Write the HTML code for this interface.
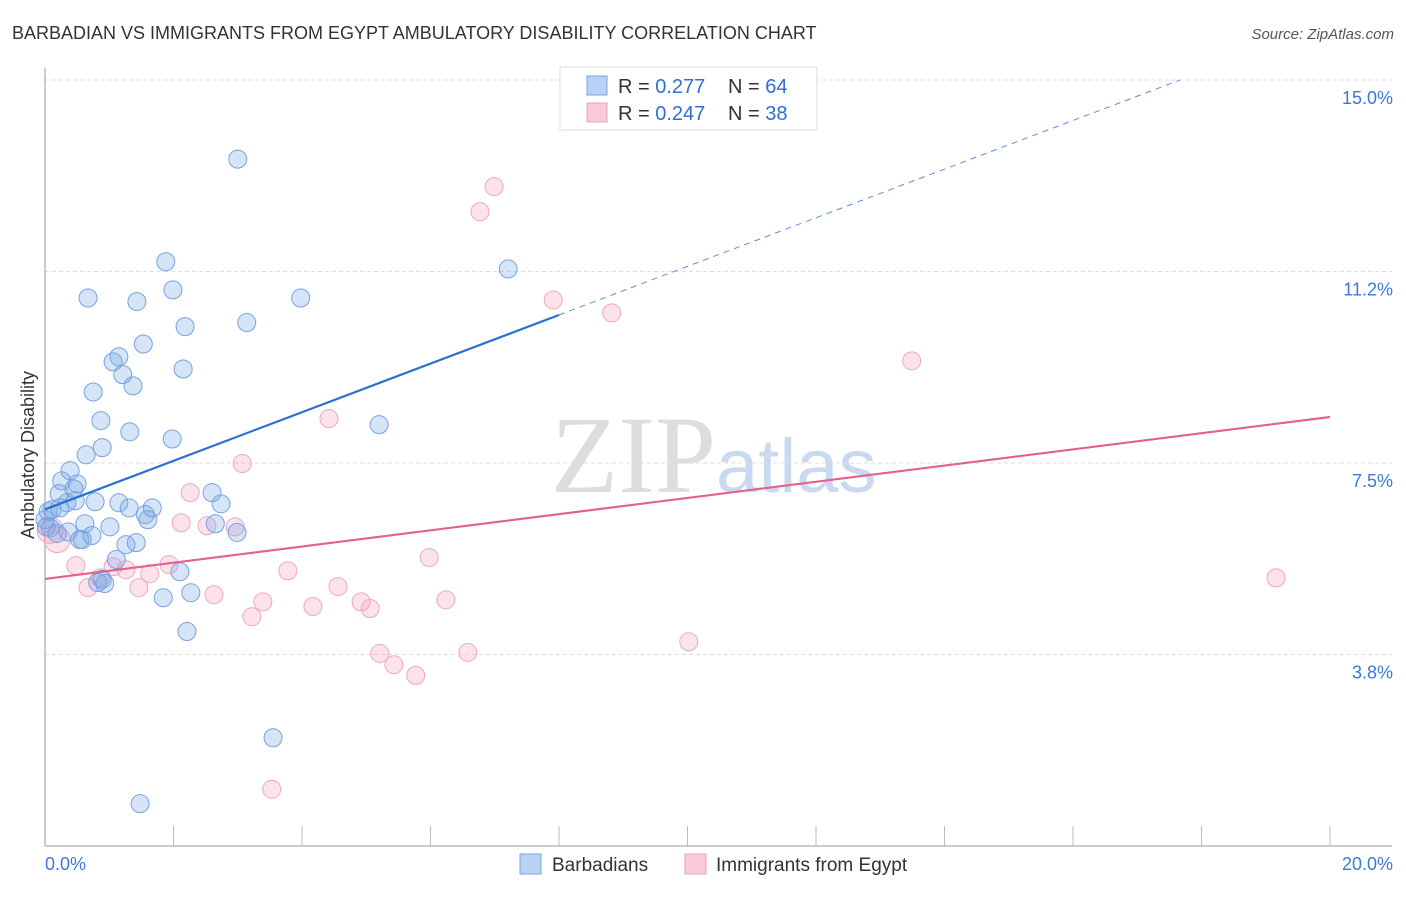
<!DOCTYPE html>
<html><head><meta charset="utf-8"><style>
body{margin:0;background:#fff;font-family:"Liberation Sans",sans-serif;}
</style></head><body>
<svg id="chart" width="1406" height="892" xmlns="http://www.w3.org/2000/svg">
<text x="12" y="39" font-size="18" fill="#333">BARBADIAN VS IMMIGRANTS FROM EGYPT AMBULATORY DISABILITY CORRELATION CHART</text>
<text x="1394" y="39" font-size="15" fill="#555" font-style="italic" text-anchor="end">Source: ZipAtlas.com</text>
<text x="716" y="492" font-size="110" fill="#ddd" text-anchor="end" font-family="Liberation Serif,serif">ZIP</text>
<text x="716" y="492" font-size="76" fill="#c9daf0">atlas</text>
<g id="grid"></g><g id="axes"></g><g id="marks"></g>
<text transform="translate(34,455) rotate(-90)" font-size="18" fill="#333" text-anchor="middle">Ambulatory Disability</text>
<g>
<rect x="560" y="67" width="257" height="63" fill="#fff" stroke="#ddd"/>
<rect x="587" y="76" width="20" height="19" fill="#b8d2f4" stroke="#7aa6e4"/>
<rect x="587" y="103" width="20" height="19" fill="#f9c9d8" stroke="#eaa0b8"/>
<text x="618" y="93" font-size="20" fill="#333">R = <tspan fill="#2e6fd6">0.277</tspan></text>
<text x="728" y="93" font-size="20" fill="#333">N = <tspan fill="#2e6fd6">64</tspan></text>
<text x="618" y="120" font-size="20" fill="#333">R = <tspan fill="#2e6fd6">0.247</tspan></text>
<text x="728" y="120" font-size="20" fill="#333">N = <tspan fill="#2e6fd6">38</tspan></text>
</g>
<g>
<rect x="520" y="854" width="21" height="20" fill="#b8d2f4" stroke="#7aa6e4"/>
<text x="552" y="871" font-size="19" fill="#333">Barbadians</text>
<rect x="685" y="854" width="21" height="20" fill="#f9c9d8" stroke="#eaa0b8"/>
<text x="716" y="871" font-size="19" fill="#333">Immigrants from Egypt</text>
</g>
</svg>
<script>
const blueX=[3.00,1.88,1.99,0.67,1.43,3.98,7.21,2.18,3.14,1.53,1.15,1.06,2.15,1.21,1.37,0.75,0.87,1.32,1.98,5.20,0.89,0.64,0.39,0.26,0.50,0.22,0.45,2.60,2.74,0.34,0.47,0.78,1.15,1.67,1.31,0.11,0.05,1.56,1.60,0.62,1.01,2.65,2.99,0.36,0.08,0.02,0.58,0.73,1.42,1.26,1.11,2.10,0.82,0.93,0.89,1.84,2.27,2.21,3.55,1.48,0.54,0.19,0.00,0.23];
const blueY=[13.45,11.44,10.89,10.73,10.66,10.73,11.30,10.17,10.25,9.83,9.58,9.48,9.34,9.23,9.01,8.89,8.33,8.11,7.97,8.25,7.80,7.66,7.35,7.15,7.09,6.90,6.99,6.92,6.70,6.72,6.76,6.74,6.72,6.62,6.62,6.59,6.55,6.49,6.39,6.31,6.25,6.31,6.14,6.15,6.23,6.25,6.00,6.08,5.94,5.90,5.61,5.37,5.16,5.14,5.22,4.86,4.96,4.20,2.12,0.83,6.00,6.12,6.39,6.62];
const pinkX=[6.99,6.77,7.91,8.82,13.49,4.42,3.07,2.26,2.12,2.96,2.52,5.98,1.93,3.78,1.63,1.26,1.06,0.48,0.67,1.46,2.63,3.39,3.22,4.17,4.56,4.92,5.06,6.24,5.21,5.43,5.77,6.58,10.02,19.16,3.53,0.19,0.08,0.86];
const pinkY=[12.91,12.42,10.69,10.44,9.50,8.37,7.49,6.92,6.33,6.25,6.27,5.65,5.51,5.39,5.33,5.41,5.47,5.49,5.06,5.06,4.92,4.78,4.49,4.69,5.08,4.78,4.65,4.82,3.77,3.55,3.34,3.79,4.00,5.25,1.11,6.00,6.18,5.25];
const yTicks=[3.8,7.5,11.2,15.0];
const yTickVals=[3.75,7.5,11.25,15.0];
const xTickVals=[0,2,4,6,8,10,12,14,16,18,20];
const blueTrend=[6.59,0.476];
const pinkTrend=[5.23,0.1585];
const NS='http://www.w3.org/2000/svg';
const sx=v=>45+v*64.25, sy=v=>846-v*51.07;
function mk(tag,attrs,parent){const e=document.createElementNS(NS,tag);for(const k in attrs)e.setAttribute(k,attrs[k]);document.getElementById(parent).appendChild(e);return e;}
yTickVals.forEach((v,i)=>{
 const l=mk('line',{x1:45,x2:1392,y1:sy(v),y2:sy(v),stroke:'#ddd','stroke-dasharray':'4,3'},'grid');
 
 
 const t=mk('text',{x:1393,y:sy(v)+24,'font-size':18,fill:'#3b78d8','text-anchor':'end'},'grid');
 t.textContent=yTicks[i].toFixed(1)+'%';
 
 
});
const ax=mk('line',{x1:45,x2:1392,y1:846,y2:846,stroke:'#bbb','stroke-width':1.5},'axes');


const ay=mk('line',{x1:45,x2:45,y1:68,y2:846,stroke:'#bbb','stroke-width':1.5},'axes');


xTickVals.forEach(v=>{
 const l=mk('line',{x1:sx(v),x2:sx(v),y1:826,y2:846,stroke:'#bbb'},'axes');
 
 
});
[[0,'start',45],[20,'end',1393]].forEach(([v,a,x])=>{
 const t=mk('text',{x:x,y:870,'font-size':18,fill:'#3b78d8','text-anchor':a},'axes');
 t.textContent=v.toFixed(1)+'%';
 
 
});
pinkX.forEach((x,i)=>{
 const r=i>=pinkX.length-3&&i<pinkX.length-1?13:9;
 const c=mk('circle',{cx:sx(x),cy:sy(pinkY[i]),r:r,fill:'rgba(244,160,190,0.3)',stroke:'#eda8c0','stroke-width':1},'marks');
 
 
});
blueX.forEach((x,i)=>{
 const c=mk('circle',{cx:sx(x),cy:sy(blueY[i]),r:9,fill:'rgba(120,165,230,0.3)',stroke:'#76a3e2','stroke-width':1},'marks');
 
 
});
const bt=mk('line',{x1:sx(0),y1:sy(blueTrend[0]),x2:sx(8),y2:sy(blueTrend[0]+8*blueTrend[1]),stroke:'#2a6fd6','stroke-width':2.2},'marks');


const xe=(15-blueTrend[0])/blueTrend[1];
const bd=mk('line',{x1:sx(8),y1:sy(blueTrend[0]+8*blueTrend[1]),x2:sx(xe),y2:sy(15),stroke:'#5a8fe0','stroke-width':1,'stroke-dasharray':'6,5'},'marks');


const pt=mk('line',{x1:sx(0),y1:sy(pinkTrend[0]),x2:sx(20),y2:sy(pinkTrend[0]+20*pinkTrend[1]),stroke:'#e4608e','stroke-width':2.2},'marks');


</script>
</body></html>
